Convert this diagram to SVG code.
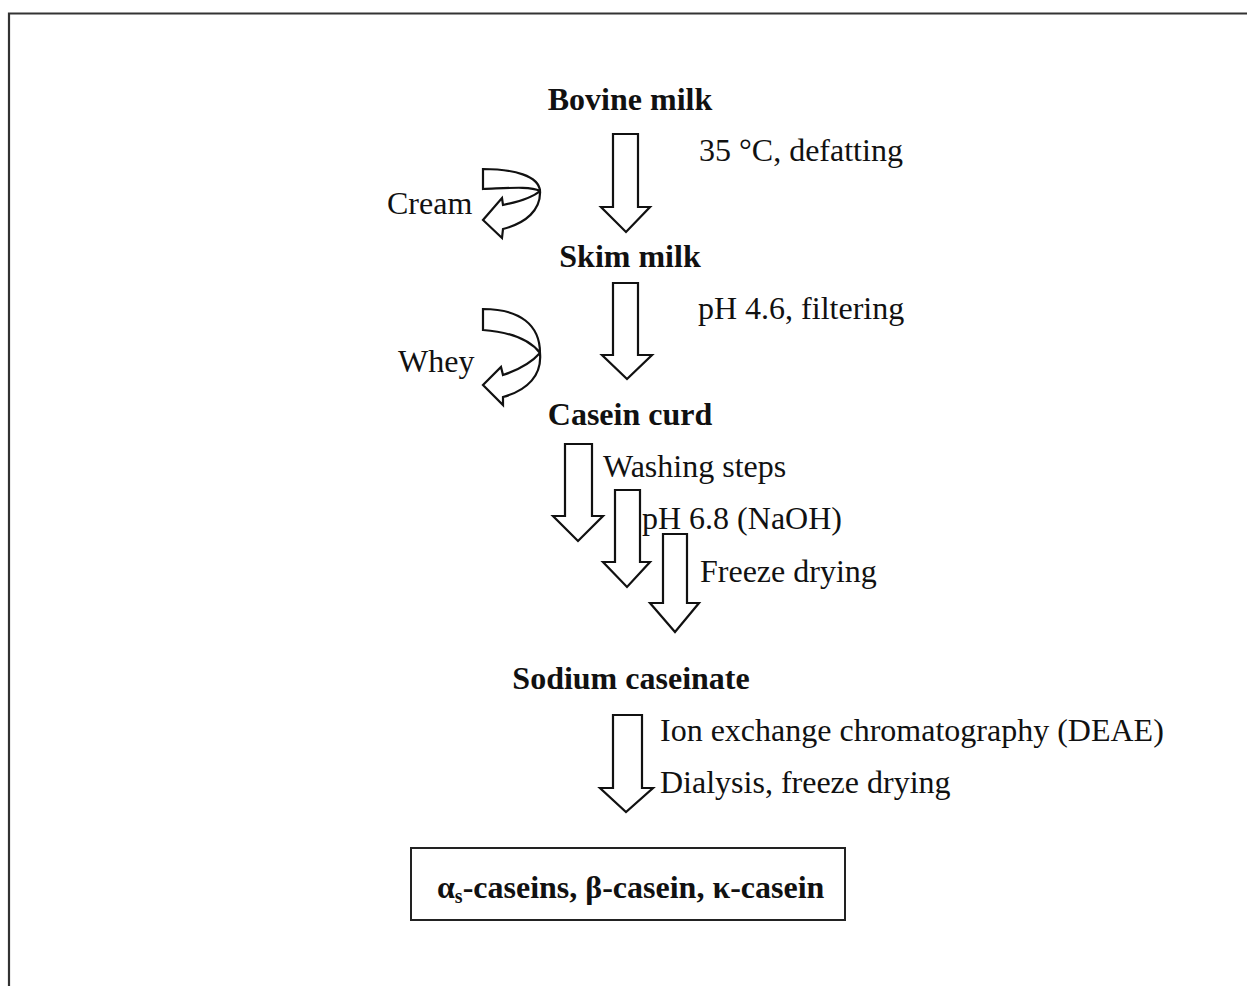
<svg xmlns="http://www.w3.org/2000/svg" width="1247" height="986" viewBox="0 0 1247 986">
<style>
.t{font-family:"Liberation Serif","Times New Roman",serif;font-size:32px;fill:#111}
.b{font-weight:bold}
.ar{fill:#fff;stroke:#111;stroke-width:2.2;stroke-linejoin:miter}
.frame{fill:none;stroke:#333;stroke-width:2.2}
</style>
<rect width="1247" height="986" fill="#fff"/>
<path class="frame" d="M9,986 V13.5 H1247"/>

<g id="connectors">
  <path class="ar" d="M613,134 H638 V207 H650 L626,232 L601,207 H613 Z"/>
  <path class="ar" d="M613,283 H638 V355 H652 L627,379 L602,355 H613 Z"/>
  <path class="ar" d="M565,444 H592 V516 H603 L578,541 L553,516 H565 Z"/>
  <path class="ar" d="M615,490 H640 V562 H650 L627,587 L603,562 H615 Z"/>
  <path class="ar" d="M663,534 H687 V603 H699 L675,632 L650,603 H663 Z"/>
  <path class="ar" d="M613,715 H642 V788 H653 L626,812 L600,788 H613 Z"/>
  <path class="ar" d="M483,169 C514,169 539,176 540,191 C530,186 510,188 483,189 Z M540,191 C532,198 518,202 503,205 L502,198 L483,220 L502,238 L503,229 C526,223 541,210 540,191 Z"/>
  <path class="ar" d="M483,309 C520,309 540,325 540,353 C530,340 510,332 483,330 Z M540,353 C532,362 518,370 503,375 L501,367 L483,385 L503,405 L503,397 C528,390 542,375 540,353 Z"/>
</g>

<g id="n-bovine"><text class="t b" x="630" y="110" text-anchor="middle">Bovine milk</text></g>
<g id="l-defat"><text class="t" x="699" y="161">35 °C, defatting</text></g>
<g id="l-cream"><text class="t" x="387" y="214">Cream</text></g>
<g id="n-skim"><text class="t b" x="630" y="267" text-anchor="middle">Skim milk</text></g>
<g id="l-filter"><text class="t" x="698" y="319">pH 4.6, filtering</text></g>
<g id="l-whey"><text class="t" x="398" y="372">Whey</text></g>
<g id="n-curd"><text class="t b" x="630" y="425" text-anchor="middle">Casein curd</text></g>
<g id="l-wash"><text class="t" x="603" y="477">Washing steps</text></g>
<g id="l-ph68"><text class="t" x="642" y="529">pH 6.8 (NaOH)</text></g>
<g id="l-freeze"><text class="t" x="700" y="582">Freeze drying</text></g>
<g id="n-caseinate"><text class="t b" x="631" y="689" text-anchor="middle">Sodium caseinate</text></g>
<g id="l-ion"><text class="t" x="660" y="741">Ion exchange chromatography (DEAE)</text></g>
<g id="l-dial"><text class="t" x="660" y="793">Dialysis, freeze drying</text></g>
<g id="n-caseins">
  <rect x="411" y="848" width="434" height="72" fill="#fff" stroke="#222" stroke-width="2"/>
  <text class="t b" x="437" y="898">α<tspan font-size="20" dy="5">s</tspan><tspan dy="-5">-caseins, β-casein, κ-casein</tspan></text>
</g>
</svg>
